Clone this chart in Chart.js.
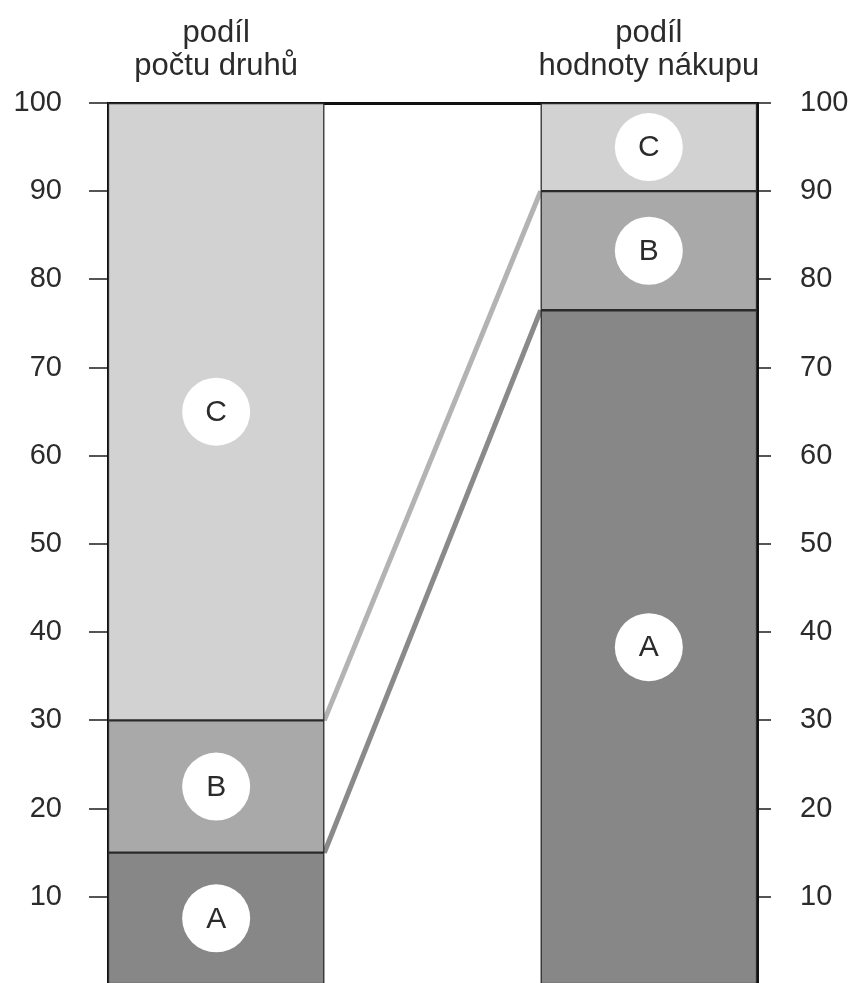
<!DOCTYPE html>
<html>
<head>
<meta charset="utf-8">
<script src="https://cdn.jsdelivr.net/npm/chart.js@4"></script>
<style>
  html, body { margin: 0; padding: 0; background: #ffffff; overflow: hidden; }
  canvas { display: block; }
</style>
</head>
<body>
<canvas id="c" width="854" height="985" style="width:854px;height:985px"></canvas>
<script>
// ---- data ----
const categories = [["podíl", "počtu druhů"], "", ["podíl", "hodnoty nákupu"]];
const groupA = [15, null, 76.5];
const groupB = [15, null, 13.5];
const groupC = [70, null, 10];
const groupNames = ["A", "B", "C"];
const linkUpper = [{ x: 1, y: 30 }, { x: 2, y: 90 }];
const linkLower = [{ x: 1, y: 15 }, { x: 2, y: 76.5 }];
const yTicks = [10, 20, 30, 40, 50, 60, 70, 80, 90, 100];

const FONT = "'Liberation Sans', Arial, Helvetica, sans-serif";
const TXT = "#2b2b2b";

const circleLabels = {
  id: "circleLabels",
  afterDatasetsDraw(chart) {
    const ctx = chart.ctx;
    chart.data.datasets.forEach((ds, di) => {
      if (ds.type === "line") return;
      const meta = chart.getDatasetMeta(di);
      meta.data.forEach((el, i) => {
        const v = ds.data[i];
        if (v === null || v === undefined) return;
        const cx = el.x;
        const cy = (el.y + el.base) / 2;
        ctx.save();
        ctx.beginPath();
        ctx.arc(cx, cy, 34, 0, Math.PI * 2);
        ctx.fillStyle = "#ffffff";
        ctx.fill();
        ctx.fillStyle = TXT;
        ctx.font = "30px " + FONT;
        ctx.textAlign = "center";
        ctx.textBaseline = "middle";
        ctx.fillText(ds.label, cx, cy + 1);
        ctx.restore();
      });
    });
  }
};

const barCommon = {
  type: "bar",
  xAxisID: "x",
  yAxisID: "y",
  borderColor: "#2a2a2a",
  borderWidth: 1.5,
  borderSkipped: false,
  categoryPercentage: 1.0,
  barPercentage: 1.0,
  grouped: false,
  order: 1
};

function fitY(width) {
  return function (s) {
    s.width = width;
    s.paddingTop = 0;
    s.paddingBottom = 0;
  };
}

new Chart(document.getElementById("c"), {
  data: {
    labels: categories,
    datasets: [
      { ...barCommon, label: groupNames[0], data: groupA, backgroundColor: "#878787" },
      { ...barCommon, label: groupNames[1], data: groupB, backgroundColor: "#a9a9a9" },
      { ...barCommon, label: groupNames[2], data: groupC, backgroundColor: "#d3d2d3" },
      { type: "line", label: "u", data: linkUpper, xAxisID: "xl", yAxisID: "y2",
        borderColor: "#b3b3b3", borderWidth: 5, pointRadius: 0, order: 2 },
      { type: "line", label: "l", data: linkLower, xAxisID: "xl", yAxisID: "y2",
        borderColor: "#8a8a8a", borderWidth: 5, pointRadius: 0, order: 2 }
    ]
  },
  options: {
    responsive: false,
    animation: false,
    layout: { padding: 0 },
    plugins: { legend: { display: false }, tooltip: { enabled: false } },
    scales: {
      x: {
        type: "category",
        position: "top",
        stacked: true,
        offset: true,
        afterFit(s) { s.height = 103; s.paddingLeft = 0; s.paddingRight = 0; },
        grid: { display: false, drawTicks: false },
        border: { display: true, color: "#111111", width: 3 },
        ticks: {
          color: TXT,
          padding: 20,
          font: { family: FONT, size: 31, lineHeight: 1.06 },
          maxRotation: 0,
          autoSkip: false
        }
      },
      xl: {
        type: "linear",
        min: 0,
        max: 3,
        display: false
      },
      y: {
        position: "left",
        stacked: true,
        min: 0,
        max: 100,
        afterFit: fitY(108),
        afterBuildTicks(s) { s.ticks = [0].concat(yTicks).map(v => ({ value: v })); },
        grid: { display: true, drawOnChartArea: false, drawTicks: true, tickLength: 19, color: "#555555", lineWidth: 2 },
        border: { display: true, color: "#111111", width: 2.5 },
        ticks: {
          color: TXT,
          padding: 27,
          font: { family: FONT, size: 29 },
          callback: v => (yTicks.includes(v) ? String(v) : "")
        }
      },
      y2: {
        position: "right",
        min: 0,
        max: 100,
        afterFit: fitY(97),
        afterBuildTicks(s) { s.ticks = [0].concat(yTicks).map(v => ({ value: v })); },
        grid: { display: true, drawOnChartArea: false, drawTicks: true, tickLength: 14, color: "#555555", lineWidth: 2 },
        border: { display: true, color: "#111111", width: 3 },
        ticks: {
          color: TXT,
          padding: 29,
          font: { family: FONT, size: 29 },
          callback: v => (yTicks.includes(v) ? String(v) : "")
        }
      }
    }
  },
  plugins: [circleLabels]
});
</script>
</body>
</html>
